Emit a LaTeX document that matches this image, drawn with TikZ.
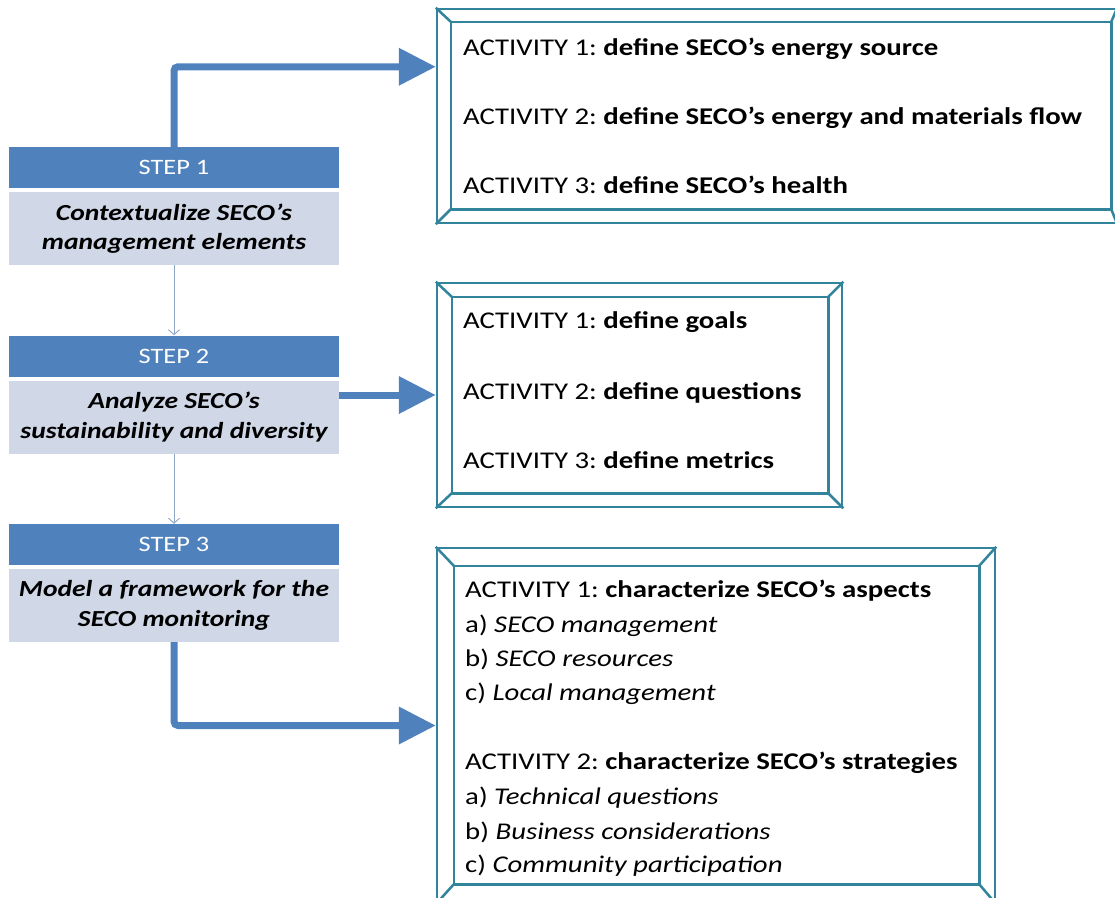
\documentclass[tikz,border=0pt]{standalone}
\usepackage{fontspec}
\setmainfont{Carlito}[FakeStretch=1.2]
\usetikzlibrary{arrows.meta,calc}

\definecolor{stepblue}{HTML}{4F81BD}
\definecolor{steplight}{HTML}{D0D8E8}
\definecolor{frameteal}{HTML}{31849B}
\definecolor{thingray}{HTML}{8EA6C6}

\newcommand\bevelframe[5]{% node, left, top, right, bottom insets
  \draw[frameline] ($(#1.north west)+(#2,#3)$) rectangle ($(#1.south east)+(-#4,-#5)$);
  \draw[frameline] (#1.north west) -- ++(#2,#3);
  \draw[frameline] (#1.north east) -- ++(-#4,#3);
  \draw[frameline] (#1.south west) -- ++(#2,-#5);
  \draw[frameline] (#1.south east) -- ++(-#4,-#5);
}

\begin{document}
\frenchspacing
\begin{tikzpicture}[x=1pt,y=-1pt,
  stephead/.style={fill=stepblue, text=white, minimum width=330pt, minimum height=41pt,
    inner sep=0pt, font=\fontsize{22}{26}\selectfont},
  stepbody/.style={fill=steplight, text=black, minimum width=330pt, minimum height=73pt,
    inner sep=0pt, align=center, font=\fontsize{23}{29.5}\selectfont\bfseries\itshape},
  framebox/.style={draw=frameteal, line width=2.5pt, fill=white, inner sep=0pt},
  frameline/.style={draw=frameteal, line width=2.5pt, line join=round},
  acttext/.style={anchor=base west, inner sep=0pt, font=\fontsize{24}{28}\selectfont},
  thinarrow/.style={draw=thingray, line width=0.9pt, -{Straight Barb[length=5pt,width=11pt]}},
  bigarrow/.style={draw=stepblue, line width=7pt, rounded corners=4pt,
    -{Triangle[length=37pt,width=36pt]}}
]
\useasboundingbox (0,0) rectangle (1115,897);

% ---- step column ----
\node[stephead] (h1) at (174,167.5) {STEP 1};
\node[stepbody] (b1) at (174,228.5) {Contextualize SECO’s\\management elements};
\node[stephead] (h2) at (174,356) {STEP 2};
\node[stepbody] (b2) at (174,417) {Analyze SECO’s\\sustainability and diversity};
\node[stephead] (h3) at (174,544.5) {STEP 3};
\node[stepbody] (b3) at (174,605.5) {Model a framework for the\\SECO monitoring};

% ---- activity frames ----
\node[framebox, minimum width=679pt, minimum height=214pt] (act1) at (776.5,116) {};
\bevelframe{act1}{15}{14}{6}{15}
\node[framebox, minimum width=405pt, minimum height=224pt] (act2) at (639.5,395) {};
\bevelframe{act2}{16}{15}{15}{15}
\node[framebox, minimum width=558pt, minimum height=355pt] (act3) at (716,725.5) {};
\bevelframe{act3}{18}{19}{17}{20}

% ---- activity texts ----
\node[acttext] (a1x1) at (463,55.5) {ACTIVITY 1: \textbf{define SECO’s energy source}};
\node[acttext] (a1x2) at (463,124.5) {ACTIVITY 2: \textbf{define SECO’s energy and materials flow}};
\node[acttext] (a1x3) at (463,193.5) {ACTIVITY 3: \textbf{define SECO’s health}};

\node[acttext] (a2x1) at (463,328) {ACTIVITY 1: \textbf{define goals}};
\node[acttext] (a2x2) at (463,399) {ACTIVITY 2: \textbf{define questions}};
\node[acttext] (a2x3) at (463,468) {ACTIVITY 3: \textbf{define metrics}};

\node[acttext] (a3x1) at (465,597.5) {ACTIVITY 1: \textbf{characterize SECO’s aspects}};
\node[acttext] (a3x2) at (465,632) {a) \textit{SECO management}};
\node[acttext] (a3x3) at (465,666) {b) \textit{SECO resources}};
\node[acttext] (a3x4) at (465,700) {c) \textit{Local management}};
\node[acttext] (a3x5) at (465,769.5) {ACTIVITY 2: \textbf{characterize SECO’s strategies}};
\node[acttext] (a3x6) at (465,804) {a) \textit{Technical questions}};
\node[acttext] (a3x7) at (465,839) {b) \textit{Business considerations}};
\node[acttext] (a3x8) at (465,872) {c) \textit{Community participation}};

% ---- connectors ----
\draw[thinarrow] (b1.south) -- (h2.north);
\draw[thinarrow] (b2.south) -- (h3.north);
\draw[bigarrow] (h1.north) |- ($(act1.north west)+(0,59)$);
\draw[bigarrow] (b2.east |- act2.west) -- (act2.west);
\draw[bigarrow] (b3.south) |- (act3.west);
\end{tikzpicture}
\end{document}
